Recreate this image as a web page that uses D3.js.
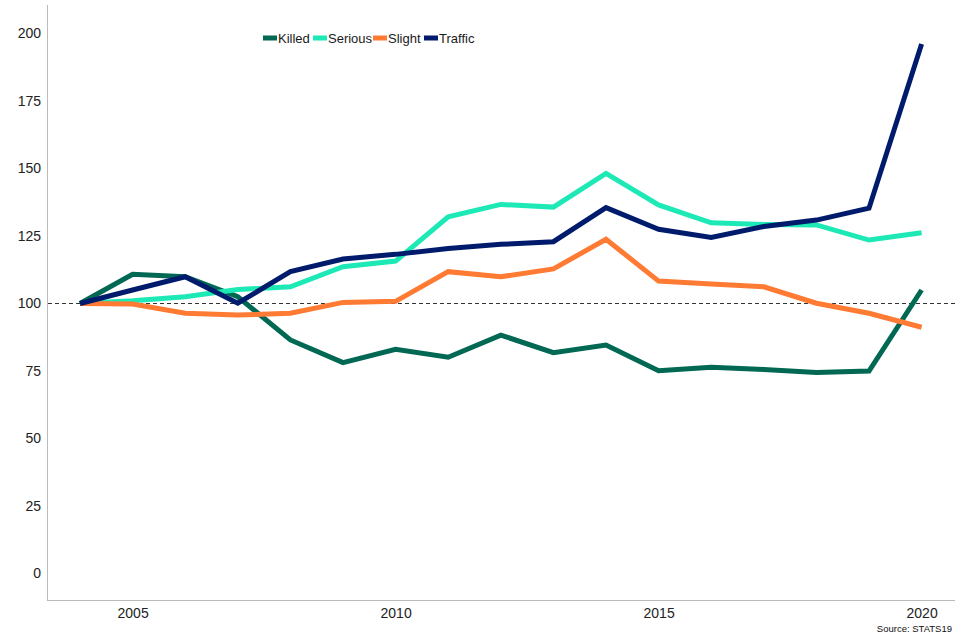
<!DOCTYPE html>
<html><head><meta charset="utf-8">
<script src="https://cdn.jsdelivr.net/npm/d3@7"></script>
<style>body{margin:0;background:#fff}svg{display:block}text{font-family:"Liberation Sans",Arial,sans-serif}</style>
</head><body>
<svg id="c" width="960" height="640"></svg>
<script>
const years = [2004,2005,2006,2007,2008,2009,2010,2011,2012,2013,2014,2015,2016,2017,2018,2019,2020];
const killed  = [100,110.8,109.9,102.5,86.5,78.1,83.0,80.1,88.3,81.8,84.6,75.1,76.4,75.6,74.4,75.0,105.0];
const serious = [100,101.0,102.5,105.2,106.2,113.6,115.7,132.1,136.7,135.7,148.2,136.5,129.9,129.3,129.1,123.5,126.2];
const slight  = [100,99.8,96.4,95.7,96.4,100.4,100.8,111.8,109.9,112.8,123.8,108.3,107.2,106.2,100.1,96.4,91.2];
const traffic = [100,105.0,109.9,100.1,111.8,116.5,118.2,120.4,121.9,122.9,135.5,127.5,124.5,128.5,130.9,135.3,196.1];
const seriesNames = ["Killed","Serious","Slight","Traffic"];
const seriesColors = ["#006853","#1de9b6","#ff7a33","#001b6b"];
const yTicks = [0,25,50,75,100,125,150,175,200];
const xTicks = [2005,2010,2015,2020];
const seriesData = [killed, serious, slight, traffic];

const svg = d3.select("#c");
const x = d3.scaleLinear().domain([2004,2020]).range([80,921.6]);
const y = d3.scaleLinear().domain([0,200]).range([573.5,33.5]);

// axes lines
svg.append("line").attr("x1",47.5).attr("x2",47.5).attr("y1",5).attr("y2",600.5).attr("stroke","#bbb");
svg.append("line").attr("x1",47).attr("x2",955).attr("y1",600.5).attr("y2",600.5).attr("stroke","#bbb");

// y tick labels
const yAxis = d3.axisLeft(y).tickValues(yTicks).tickSize(0).tickPadding(0);
const gy = svg.append("g").attr("transform","translate(41,0)").call(yAxis);
gy.select(".domain").remove();
gy.selectAll("text").attr("font-size",14).attr("fill","#222").style("font-family","'Liberation Sans',Arial,sans-serif");

// x tick labels
const xAxis = d3.axisBottom(x).tickValues(xTicks).tickFormat(d3.format("d")).tickSize(0).tickPadding(0);
const gx = svg.append("g").attr("transform","translate(0,608)").call(xAxis);
gx.select(".domain").remove();
gx.selectAll("text").attr("font-size",14).attr("fill","#222").style("font-family","'Liberation Sans',Arial,sans-serif");

// reference line at 100
svg.append("line").attr("x1",48).attr("x2",955).attr("y1",y(100)).attr("y2",y(100))
  .attr("stroke","#333").attr("stroke-dasharray","4,3").attr("stroke-width",1);

// lines
const line = d3.line().x((d,i)=>x(years[i])).y(d=>y(d));
seriesData.forEach((s,k)=>{
  svg.append("path").datum(s).attr("d",line).attr("fill","none")
    .attr("stroke",seriesColors[k]).attr("stroke-width",5).attr("stroke-linejoin","miter");
});

// legend
const legX = [263,313,373,424];
seriesNames.forEach((n,k)=>{
  svg.append("rect").attr("x",legX[k]).attr("y",35.5).attr("width",14).attr("height",5).attr("fill",seriesColors[k]);
  svg.append("text").attr("x",legX[k]+15).attr("y",43).attr("font-size",13).attr("fill","#1a1a1a").text(n);
});

// source
svg.append("text").attr("x",952).attr("y",632).attr("text-anchor","end").attr("font-size",9.5).attr("fill","#111").text("Source: STATS19");
</script>
</body></html>
